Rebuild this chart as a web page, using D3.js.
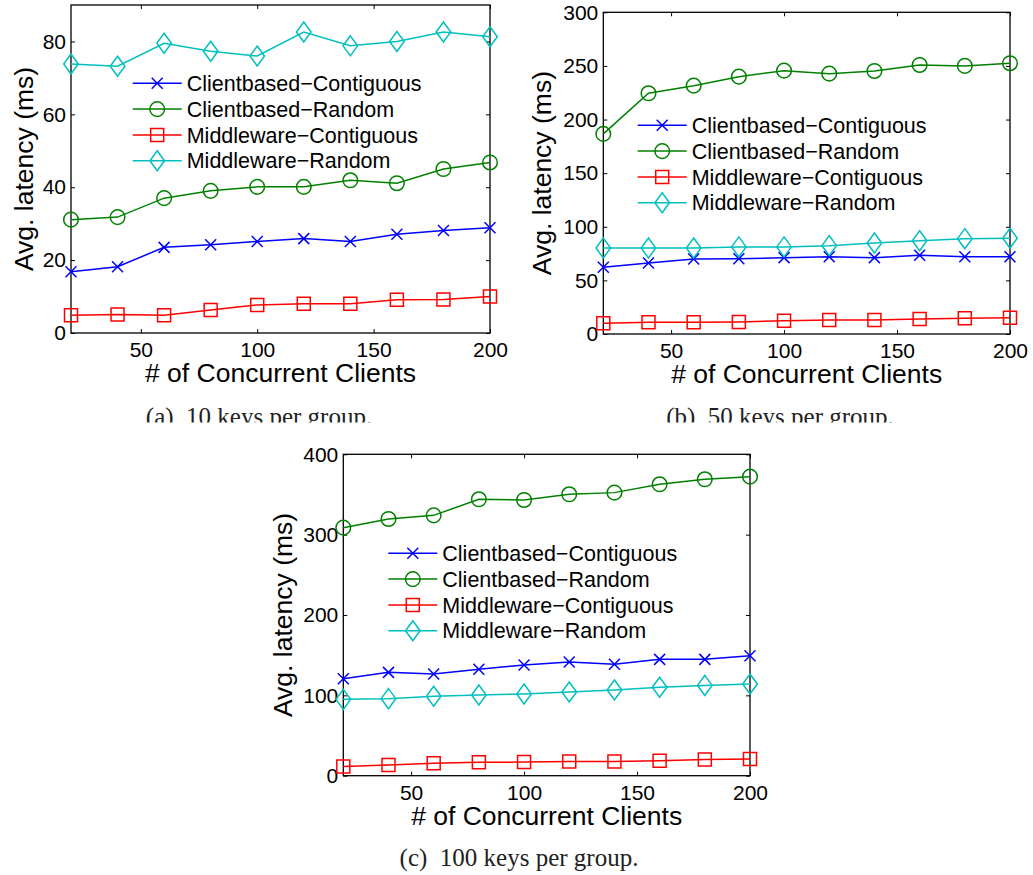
<!DOCTYPE html>
<html>
<head>
<meta charset="utf-8">
<script src="https://cdn.jsdelivr.net/npm/d3@7"></script>
<style>
  body { margin: 0; background: #fff; }
  svg { display: block; }
  text { font-family: "Liberation Sans", Arial, sans-serif; fill: #000; }
  .caption { font-family: "Liberation Serif", "Times New Roman", serif; fill: #222; white-space: pre; }
</style>
</head>
<body>
<script>
// x values (number of concurrent clients)
const clients = [20, 40, 60, 80, 100, 120, 140, 160, 180, 200];
const xTicks = [50, 100, 150, 200];
const seriesNames = ["Clientbased\u2212Contiguous", "Clientbased\u2212Random", "Middleware\u2212Contiguous", "Middleware\u2212Random"];

// (a) 10 keys per group
const cbContig10 = [16.8, 18.2, 23.5, 24.2, 25.1, 25.9, 25.1, 27.1, 28.1, 28.9];
const cbRandom10 = [31.1, 31.8, 37.0, 39.0, 40.1, 40.1, 41.9, 41.1, 45.0, 46.8];
const mwContig10 = [4.9, 5.1, 4.9, 6.3, 7.7, 8.0, 8.0, 9.1, 9.2, 10.0];
const mwRandom10 = [73.8, 73.2, 79.5, 77.3, 76.0, 82.6, 78.8, 80.0, 82.6, 81.3];
const yTicks10 = [0, 20, 40, 60, 80];

// (b) 50 keys per group
const cbContig50 = [62.2, 66.2, 70.0, 70.2, 71.2, 72.1, 71.2, 73.4, 72.1, 72.1];
const cbRandom50 = [186.6, 224.5, 231.6, 240.0, 245.6, 242.8, 245.3, 250.9, 250.0, 252.5];
const mwContig50 = [10.0, 10.9, 10.9, 11.2, 12.4, 13.1, 13.1, 14.0, 14.6, 15.2];
const mwRandom50 = [80.2, 80.2, 80.2, 81.2, 81.2, 82.4, 84.9, 87.0, 88.9, 89.3];
const yTicks50 = [0, 50, 100, 150, 200, 250, 300];

// (c) 100 keys per group
const cbContig100 = [120.7, 128.6, 126.6, 132.4, 137.8, 141.5, 138.6, 144.8, 144.8, 149.4];
const cbRandom100 = [308.7, 319.5, 324.0, 344.0, 343.2, 350.2, 352.3, 362.7, 368.9, 372.2];
const mwContig100 = [11.6, 13.3, 15.4, 16.6, 17.0, 17.8, 17.8, 18.7, 20.3, 20.7];
const mwRandom100 = [95.0, 95.9, 98.8, 100.4, 101.7, 104.1, 106.6, 110.0, 112.4, 114.1];
const yTicks100 = [0, 100, 200, 300, 400];

const colors = ["#0000ff", "#008000", "#ff0000", "#00bfbf"];
const markers = ["x", "circle", "square", "diamond"];

const W = 1033, H = 875;
const svg = d3.select("body").append("svg").attr("width", W).attr("height", H);

// caption of the top row gets cut by the bottom figure
svg.append("clipPath").attr("id", "topclip")
  .append("rect").attr("x", 0).attr("y", 0).attr("width", W).attr("height", 422.5);

function markerPath(type) {
  switch (type) {
    case "x": return "M-5.5,-5.5L5.5,5.5M-5.5,5.5L5.5,-5.5";
    case "circle": return d3.symbol(d3.symbolCircle, Math.PI * 7.3 * 7.3)();
    case "square": return "M-6.5,-6.5H6.5V6.5H-6.5Z";
    case "diamond": return "M0,-10L7.3,0L0,10L-7.3,0Z";
  }
}

function drawPanel(p) {
  const g = svg.append("g");
  const x = d3.scaleLinear().domain([20, 200]).range([p.left, p.right]);
  const y = d3.scaleLinear().domain([0, p.yMax]).range([p.bottom, p.top]);

  // axes with inward ticks (matlab box style)
  g.append("g").attr("transform", `translate(0,${p.bottom})`)
    .call(d3.axisBottom(x).tickValues(xTicks).tickSizeInner(-4).tickSizeOuter(0).tickPadding(9))
    .call(a => a.select(".domain").remove())
    .call(a => a.selectAll("text").attr("font-size", 21).attr("font-family", null));
  g.append("g").attr("transform", `translate(0,${p.top})`)
    .call(d3.axisTop(x).tickValues(xTicks).tickSizeInner(-4).tickSizeOuter(0).tickFormat(""))
    .call(a => a.select(".domain").remove());
  g.append("g").attr("transform", `translate(${p.left},0)`)
    .call(d3.axisLeft(y).tickValues(p.yTicks).tickSizeInner(-4).tickSizeOuter(0).tickPadding(5))
    .call(a => a.select(".domain").remove())
    .call(a => a.selectAll("text").attr("font-size", 21).attr("font-family", null));
  g.append("g").attr("transform", `translate(${p.right},0)`)
    .call(d3.axisRight(y).tickValues(p.yTicks).tickSizeInner(-4).tickSizeOuter(0).tickFormat(""))
    .call(a => a.select(".domain").remove());
  g.selectAll(".tick line").attr("stroke", "#000").attr("stroke-width", 1);

  g.append("rect")
    .attr("x", p.left).attr("y", p.top)
    .attr("width", p.right - p.left).attr("height", p.bottom - p.top)
    .attr("fill", "none").attr("stroke", "#000").attr("stroke-width", 1.3);

  const line = d3.line().x((d, i) => x(clients[i])).y(d => y(d));

  p.series.forEach((vals, si) => {
    g.append("path").datum(vals)
      .attr("d", line)
      .attr("fill", "none").attr("stroke", colors[si]).attr("stroke-width", 1.5);
    g.selectAll(null).data(vals).enter().append("path")
      .attr("transform", (d, i) => `translate(${x(clients[i])},${y(d)})`)
      .attr("d", markerPath(markers[si]))
      .attr("fill", "none").attr("stroke", colors[si]).attr("stroke-width", 1.5);
  });

  // legend (no box)
  const lg = g.append("g").attr("transform", `translate(${p.left + p.legX},${p.top + p.legY})`);
  seriesNames.forEach((name, si) => {
    const row = lg.append("g").attr("transform", `translate(0,${si * 25.8})`);
    row.append("line").attr("x1", 0).attr("x2", 49).attr("y1", 0).attr("y2", 0)
      .attr("stroke", colors[si]).attr("stroke-width", 1.5);
    row.append("path").attr("transform", "translate(24.5,0)")
      .attr("d", markerPath(markers[si]))
      .attr("fill", "none").attr("stroke", colors[si]).attr("stroke-width", 1.5);
    row.append("text").attr("x", 54).attr("y", 0).attr("dy", "0.36em")
      .attr("font-size", 21.5).text(name);
  });

  // axis titles
  g.append("text")
    .attr("x", (p.left + p.right) / 2).attr("y", p.bottom + 49)
    .attr("text-anchor", "middle").attr("font-size", 26.5)
    .text("# of Concurrent Clients");
  g.append("text")
    .attr("transform", `translate(${p.left - p.yTitleOff},${(p.top + p.bottom) / 2}) rotate(-90)`)
    .attr("text-anchor", "middle").attr("font-size", 26.5)
    .text("Avg. latency (ms)");

  const cap = svg.append("text").attr("class", "caption")
    .attr("x", p.capX).attr("y", p.capY)
    .attr("text-anchor", "middle").attr("font-size", 25)
    .text(p.caption);
  if (p.clip) cap.attr("clip-path", "url(#topclip)");
}

drawPanel({
  left: 71, right: 490, top: 5, bottom: 333, yMax: 90, yTicks: yTicks10,
  series: [cbContig10, cbRandom10, mwContig10, mwRandom10],
  legX: 61.7, legY: 78.3, yTitleOff: 38,
  caption: "(a)  10 keys per group.", capX: 259, capY: 424.5, clip: true
});
drawPanel({
  left: 603.3, right: 1010, top: 12.3, bottom: 334, yMax: 300, yTicks: yTicks50,
  series: [cbContig50, cbRandom50, mwContig50, mwRandom50],
  legX: 34.4, legY: 113, yTitleOff: 52,
  caption: "(b)  50 keys per group.", capX: 780, capY: 424.5, clip: true
});
drawPanel({
  left: 343.3, right: 750, top: 454.3, bottom: 775.7, yMax: 400, yTicks: yTicks100,
  series: [cbContig100, cbRandom100, mwContig100, mwRandom100],
  legX: 45, legY: 99, yTitleOff: 51,
  caption: "(c)  100 keys per group.", capX: 519, capY: 866, clip: false
});
</script>
</body>
</html>
